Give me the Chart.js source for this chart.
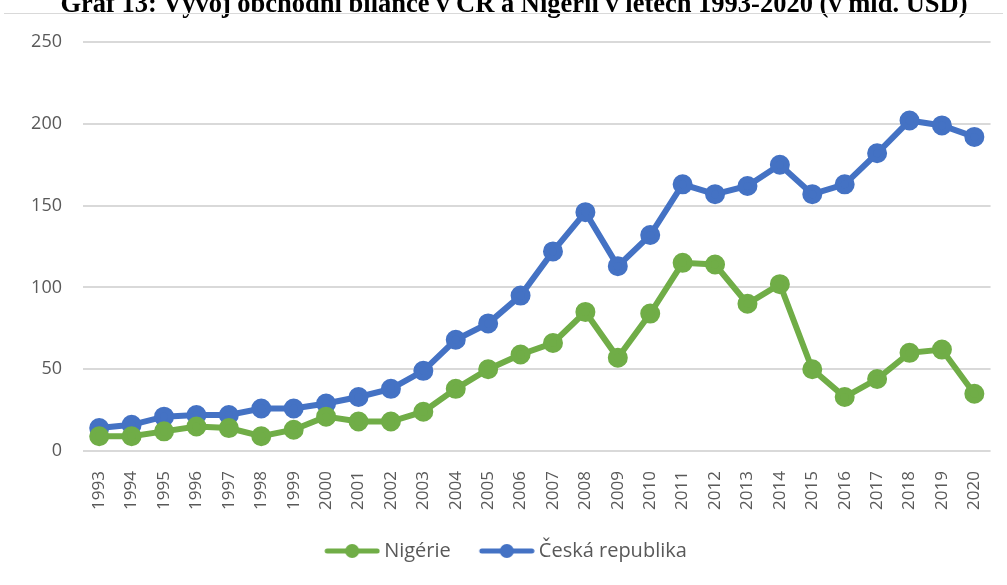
<!DOCTYPE html>
<html>
<head>
<meta charset="utf-8">
<script src="https://cdn.jsdelivr.net/npm/chart.js@4/dist/chart.umd.min.js"></script>
<style>
  html, body { margin: 0; padding: 0; background: #fff; overflow: hidden; }
  #wrap { position: relative; width: 1007px; height: 585px; }
  #titulek {
    position: absolute; top: -12px; left: 0; width: 1028px; text-align: center;
    font: bold 26.5px "Liberation Serif", "DejaVu Serif", serif; color: #000; white-space: nowrap;
  }
  #linka { position: absolute; top: 13px; left: 4px; right: 4px; height: 1px; background: #d9d9d9; }
</style>
</head>
<body>
<div id="wrap">
  <canvas id="graf" width="1007" height="585"></canvas>
  <div id="titulek">Graf 13: Vývoj obchodní bilance v ČR a Nigérii v letech 1993-2020 (v mld. USD)</div>
  <div id="linka"></div>
</div>
<script>
// roky a hodnoty (mld. USD)
const roky = ['1993','1994','1995','1996','1997','1998','1999','2000','2001','2002','2003','2004','2005','2006',
  '2007','2008','2009','2010','2011','2012','2013','2014','2015','2016','2017','2018','2019','2020'];
const nigerie = [9, 9, 12, 15, 14, 9, 13, 21, 18, 18, 24, 38, 50, 59, 66, 85, 57, 84, 115, 114, 90, 102, 50, 33, 44, 60, 62, 35];
const cesko = [14, 16, 21, 22, 22, 26, 26, 29, 33, 38, 49, 68, 78, 95, 122, 146, 113, 132, 163, 157, 162, 175, 157, 163, 182, 202, 199, 192];
const osaY = [0, 50, 100, 150, 200, 250];

const ZELENA = '#70AD47';
const MODRA = '#4472C4';

// ikonka do legendy: cara s koleckem (vlevo pruhledny okraj, posunuta k textu)
function ikonka(barva) {
  const c = document.createElement('canvas');
  c.width = 80; c.height = 16;
  const g = c.getContext('2d');
  g.strokeStyle = barva; g.lineWidth = 5; g.lineCap = 'round';
  g.beginPath(); g.moveTo(27, 8); g.lineTo(77, 8); g.stroke();
  g.fillStyle = barva;
  g.beginPath(); g.arc(52, 8, 7, 0, Math.PI * 2); g.fill();
  return c;
}

const ctx = document.getElementById('graf').getContext('2d');
new Chart(ctx, {
  type: 'line',
  data: {
    labels: roky,
    datasets: [
      {
        label: 'Nigérie', data: nigerie, borderColor: ZELENA, backgroundColor: ZELENA,
        borderWidth: 6, pointRadius: 7, pointHoverRadius: 7, tension: 0
      },
      {
        label: 'Česká republika', data: cesko, borderColor: MODRA, backgroundColor: MODRA,
        borderWidth: 6, pointRadius: 7, pointHoverRadius: 7, tension: 0
      }
    ]
  },
  options: {
    responsive: false,
    animation: false,
    layout: { padding: { top: 42, right: 14, bottom: 14, left: 0 } },
    scales: {
      x: {
        offset: true,
        grid: { display: false },
        border: { display: false },
        ticks: { color: '#595959', font: { family: 'Open Sans', size: 17 }, maxRotation: 90, minRotation: 90, padding: 12, autoSkip: false },
        afterFit: s => { s.height = 80; }
      },
      y: {
        min: 0, max: 250,
        afterBuildTicks: s => { s.ticks = osaY.map(v => ({ value: v })); },
        grid: { color: '#d9d9d9', lineWidth: 2, drawTicks: false },
        border: { display: false },
        ticks: { color: '#595959', font: { family: 'Open Sans', size: 18 }, padding: 21 },
        afterFit: s => { s.width = 83; }
      }
    },
    plugins: {
      legend: {
        position: 'bottom',
        labels: {
          color: '#595959',
          font: { family: 'Open Sans', size: 20 },
          usePointStyle: true,
          pointStyleWidth: 68,
          padding: 10,
          generateLabels: ch => ch.data.datasets.map((d, i) => ({
            text: d.label, fontColor: '#595959', pointStyle: ikonka(d.borderColor),
            fillStyle: d.borderColor, strokeStyle: d.borderColor, lineWidth: 0, datasetIndex: i, hidden: false
          }))
        }
      },
      tooltip: { enabled: false }
    }
  }
});
</script>
</body>
</html>
